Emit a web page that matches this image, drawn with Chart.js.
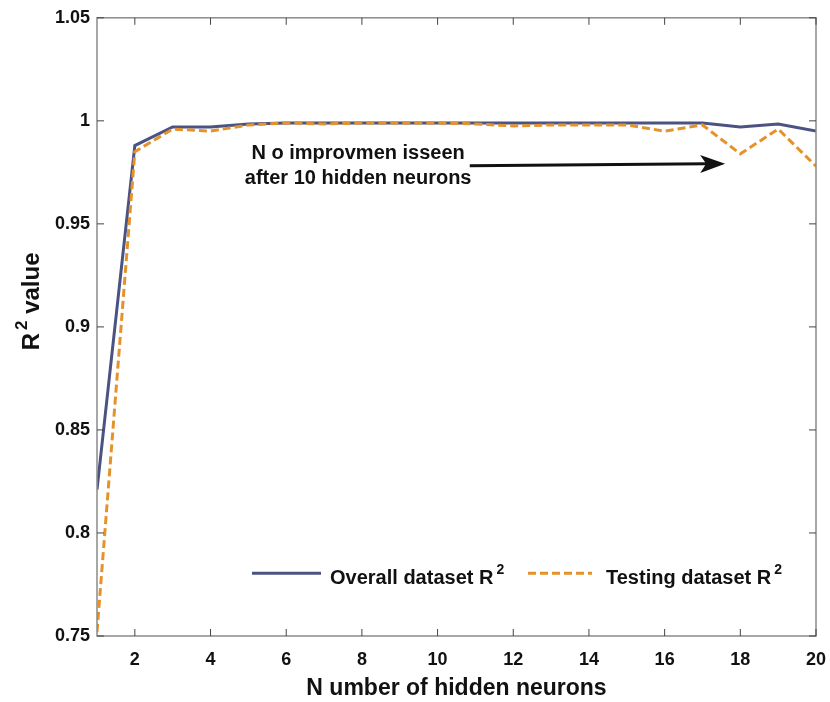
<!DOCTYPE html>
<html>
<head>
<meta charset="utf-8">
<script src="https://cdn.jsdelivr.net/npm/chart.js@4/dist/chart.umd.min.js"></script>
<style>
  html, body { margin: 0; padding: 0; background: #fff; }
  #wrap { width: 830px; height: 702px; }
</style>
</head>
<body>
<div id="wrap"><canvas id="r2Chart" width="830" height="702"></canvas></div>
<script>
// data
const neurons = [1, 2, 3, 4, 5, 6, 7, 8, 9, 10, 11, 12, 13, 14, 15, 16, 17, 18, 19, 20];
const overallR2 = [0.821, 0.988, 0.997, 0.997, 0.9985, 0.999, 0.999, 0.999, 0.999, 0.999, 0.999, 0.999, 0.999, 0.999, 0.999, 0.999, 0.999, 0.997, 0.9985, 0.995];
const testingR2 = [0.752, 0.985, 0.996, 0.995, 0.998, 0.999, 0.9985, 0.999, 0.999, 0.999, 0.9985, 0.9975, 0.998, 0.998, 0.998, 0.995, 0.998, 0.984, 0.996, 0.978];
const xTicks = [2, 4, 6, 8, 10, 12, 14, 16, 18, 20];
const yTicks = [0.75, 0.8, 0.85, 0.9, 0.95, 1, 1.05];
const seriesNames = ['Overall dataset R', 'Testing dataset R'];
const noteLines = ['N o improvmen isseen', 'after 10 hidden neurons'];

const blue = '#4a5382';
const orange = '#e6922b';
const frameGray = '#8a8a8a';
const fontFam = '"Liberation Sans", Arial, sans-serif';

const toPoints = (vals) => vals.map((v, i) => ({x: neurons[i], y: v}));

// text with a raised "2" after it
function textWithSquare(ctx, str, x, y, size) {
    ctx.font = 'bold ' + size + 'px ' + fontFam;
    ctx.fillText(str, x, y);
    const w = ctx.measureText(str).width;
    ctx.font = 'bold ' + Math.round(size * 0.72) + 'px ' + fontFam;
    ctx.fillText('2', x + w + 3, y - size * 0.42);
    return w + 3 + ctx.measureText('2').width;
}

// frame, inward ticks, y title, note with arrow, legend inside the plot
const decorations = {
    id: 'decorations',
    afterDatasetsDraw(chart) {
        const ctx = chart.ctx;
        const a = chart.chartArea;
        const xs = chart.scales.x;
        const ys = chart.scales.y;
        ctx.save();

        // box
        ctx.strokeStyle = frameGray;
        ctx.lineWidth = 1.5;
        ctx.strokeRect(a.left, a.top, a.right - a.left, a.bottom - a.top);

        // inward ticks
        ctx.beginPath();
        xTicks.forEach(t => {
            const px = xs.getPixelForValue(t);
            ctx.moveTo(px, a.bottom);
            ctx.lineTo(px, a.bottom - 7);
            ctx.moveTo(px, a.top);
            ctx.lineTo(px, a.top + 7);
        });
        yTicks.forEach(t => {
            const py = ys.getPixelForValue(t);
            ctx.moveTo(a.left, py);
            ctx.lineTo(a.left + 7, py);
            ctx.moveTo(a.right, py);
            ctx.lineTo(a.right - 7, py);
        });
        ctx.strokeStyle = '#444';
        ctx.lineWidth = 1;
        ctx.stroke();

        // y axis title, rotated
        ctx.save();
        ctx.translate(31, ys.getPixelForValue(0.91));
        ctx.rotate(-Math.PI / 2);
        ctx.fillStyle = '#111';
        ctx.textAlign = 'left';
        ctx.textBaseline = 'middle';
        const tw = 88;
        const wR = textWithSquare(ctx, 'R', -tw / 2, 1, 24);
        ctx.font = 'bold 24px ' + fontFam;
        ctx.fillText(' value', -tw / 2 + wR, 1);
        ctx.restore();

        // annotation text
        ctx.fillStyle = '#111';
        ctx.font = 'bold 20px ' + fontFam;
        ctx.textAlign = 'center';
        ctx.textBaseline = 'middle';
        const tx = xs.getPixelForValue(7.9);
        ctx.fillText(noteLines[0], tx, ys.getPixelForValue(0.984));
        ctx.fillText(noteLines[1], tx, ys.getPixelForValue(0.972));

        // arrow
        const x0 = xs.getPixelForValue(10.85), y0 = ys.getPixelForValue(0.9782);
        const x1 = xs.getPixelForValue(17.6), y1 = ys.getPixelForValue(0.9792);
        const ang = Math.atan2(y1 - y0, x1 - x0);
        const c = Math.cos(ang), s = Math.sin(ang);
        ctx.strokeStyle = '#111';
        ctx.lineWidth = 3;
        ctx.beginPath();
        ctx.moveTo(x0, y0);
        ctx.lineTo(x1 - 18 * c, y1 - 18 * s);
        ctx.stroke();
        ctx.beginPath();
        ctx.moveTo(x1, y1);
        ctx.lineTo(x1 - 25 * c + 9 * s, y1 - 25 * s - 9 * c);
        ctx.lineTo(x1 - 19 * c, y1 - 19 * s);
        ctx.lineTo(x1 - 25 * c - 9 * s, y1 - 25 * s + 9 * c);
        ctx.closePath();
        ctx.fillStyle = '#111';
        ctx.fill();

        // legend
        const ly = ys.getPixelForValue(0.7805);
        ctx.lineWidth = 3;
        ctx.textAlign = 'left';
        ctx.strokeStyle = blue;
        ctx.setLineDash([]);
        ctx.beginPath();
        ctx.moveTo(a.left + 155, ly);
        ctx.lineTo(a.left + 224, ly);
        ctx.stroke();
        ctx.fillStyle = '#111';
        textWithSquare(ctx, seriesNames[0], a.left + 233, ly + 5, 20);
        ctx.strokeStyle = orange;
        ctx.setLineDash([8, 4]);
        ctx.beginPath();
        ctx.moveTo(a.left + 431, ly);
        ctx.lineTo(a.left + 495, ly);
        ctx.stroke();
        ctx.setLineDash([]);
        ctx.fillStyle = '#111';
        textWithSquare(ctx, seriesNames[1], a.left + 509, ly + 5, 20);

        ctx.restore();
    }
};

new Chart(document.getElementById('r2Chart'), {
    type: 'line',
    data: {
        datasets: [{
            label: seriesNames[0] + '²',
            data: toPoints(overallR2),
            borderColor: blue,
            borderWidth: 3,
            pointRadius: 0,
            tension: 0,
            order: 2
        }, {
            label: seriesNames[1] + '²',
            data: toPoints(testingR2),
            borderColor: orange,
            borderWidth: 3,
            borderDash: [8, 4],
            pointRadius: 0,
            tension: 0,
            order: 1
        }]
    },
    options: {
        responsive: false,
        animation: false,
        layout: { padding: { top: 6, right: 0, left: 0, bottom: 0 } },
        plugins: {
            legend: { display: false },
            tooltip: { enabled: false }
        },
        scales: {
            x: {
                type: 'linear',
                min: 1,
                max: 20,
                afterBuildTicks: (scale) => { scale.ticks = xTicks.map(v => ({value: v})); },
                afterFit: (scale) => { scale.height = 66; scale.paddingRight = 14; },
                grid: { display: false, drawTicks: false },
                border: { display: false },
                ticks: {
                    color: '#111',
                    padding: 13,
                    maxRotation: 0,
                    font: { family: fontFam, size: 18, weight: 'bold' }
                },
                title: {
                    display: true,
                    text: 'N umber of hidden neurons',
                    color: '#111',
                    padding: { top: 3, bottom: 0 },
                    font: { family: fontFam, size: 23, weight: 'bold' }
                }
            },
            y: {
                min: 0.75,
                max: 1.05,
                afterBuildTicks: (scale) => { scale.ticks = yTicks.map(v => ({value: v})); },
                afterFit: (scale) => { scale.width = 97; },
                grid: { display: false, drawTicks: false },
                border: { display: false },
                ticks: {
                    color: '#111',
                    padding: 7,
                    font: { family: fontFam, size: 18, weight: 'bold' },
                    callback: (v) => String(Math.round(v * 100) / 100)
                }
            }
        }
    },
    plugins: [decorations]
});
</script>
</body>
</html>
